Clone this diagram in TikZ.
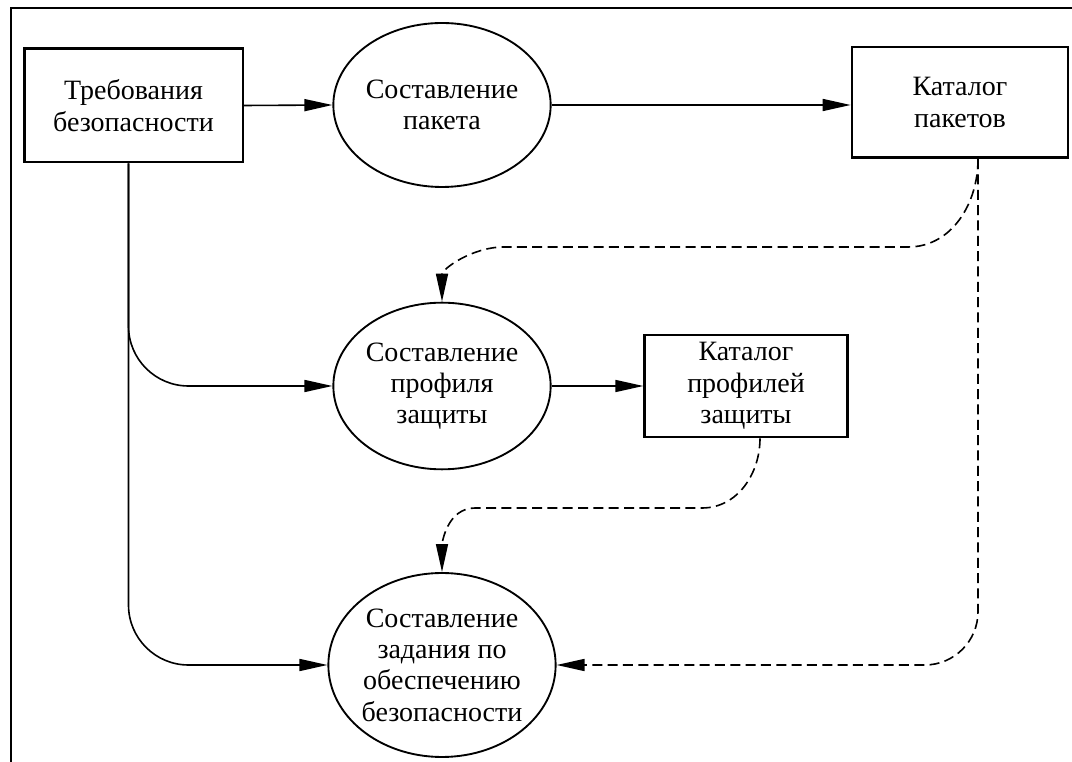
\documentclass[tikz,border=0pt]{standalone}
\usepackage{fontspec}
\setmainfont{Liberation Serif}
\usetikzlibrary{shapes.geometric,arrows.meta,calc}

\tikzset{
  blok/.style={draw, line width=2pt, rectangle, align=center, inner sep=0pt},
  proc/.style={draw, line width=1.4pt, ellipse, align=center, inner sep=0pt},
  strel/.style={line width=1.2pt, -{Triangle[length=21pt,width=9pt]}},
  punktir/.style={strel, dash pattern=on 7.5pt off 4pt},
}

\begin{document}
\begin{tikzpicture}[x=0.75pt,y=-0.75pt]
  \useasboundingbox (0,0) rectangle (1072,762);
  \fontsize{21}{23.5}\selectfont

  %% frame
  \draw[line width=1.5pt] (11,762) -- (11,8) -- (1072,8);

  %% stores
  \node[blok, minimum width=164pt, minimum height=85pt] (treb) at (133.5,105.5) {Требования\\безопасности};
  \node[blok, minimum width=162pt, minimum height=83pt] (katpak) at (960,102.5) {Каталог\\пакетов};
  \node[blok, minimum width=152pt, minimum height=76.5pt] (katprof) at (746,386) {Каталог\\профилей\\защиты};

  %% processes
  \node[proc, minimum width=163pt, minimum height=123pt] (pak) at (442,105) {Составление\\пакета};
  \node[proc, minimum width=163pt, minimum height=125pt] (prof) at (442,386) {Составление\\профиля\\защиты};
  \node[proc, minimum width=165pt, minimum height=138pt] (zad) at (442,665) {Составление\\задания по\\обеспечению\\безопасности};

  %% solid flows
  \coordinate (tr) at ($(treb.south)+(-5,0)$);
  \draw[strel] (treb.east) -- (pak.west);
  \draw[strel] (pak.east) -- (pak.east -| katpak.west);
  \draw[strel] (prof.east) -- (prof.east -| katprof.west);
  \draw[strel, rounded corners=45pt] (tr) |- (prof.west);
  \draw[strel, rounded corners=45pt] (tr) |- (zad.west);

  %% dashed flows
  \coordinate (kp) at ($(katpak.south)+(18,0)$);
  \coordinate (kpr) at ($(katprof.south)+(14,0)$);
  \coordinate (h1r) at (908,247);
  \coordinate (h1l) at (504,247);
  \coordinate (h2r) at (702,508);
  \coordinate (h2l) at (475,508);
  \draw[punktir] (kp) to[out=-90,in=0] (h1r) -- (h1l) to[out=180,in=90] (prof.north);
  \draw[punktir] (kpr) to[out=-90,in=0] (h2r) -- (h2l) to[out=180,in=90] (zad.north);
  \draw[punktir, rounded corners=40pt] (kp) |- (zad.east);

\end{tikzpicture}
\end{document}
